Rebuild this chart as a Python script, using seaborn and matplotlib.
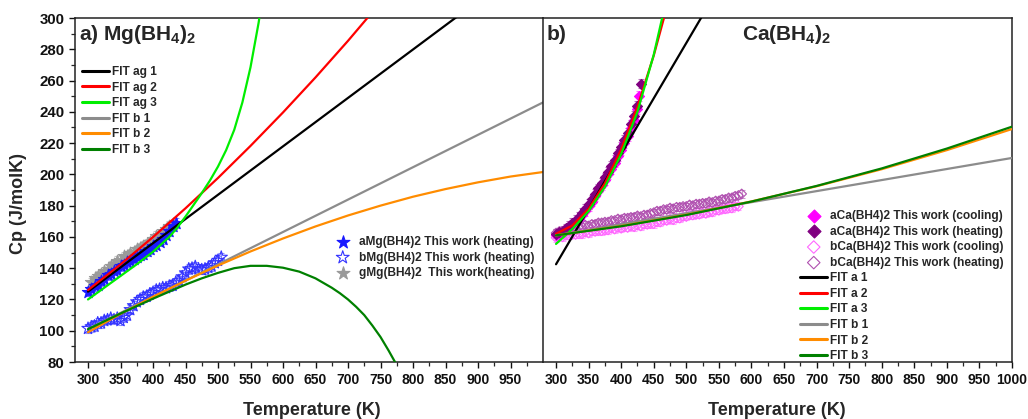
import numpy as np
import pandas as pd
import matplotlib
matplotlib.use("Agg")
import matplotlib.pyplot as plt
import seaborn as sns
from matplotlib.ticker import FixedLocator, MultipleLocator

# ---------------------------------------------------------------- Mg(BH4)2 data
T_mg_a = [300, 305, 310, 315, 320, 325, 330, 335, 340, 345, 350, 355, 360, 365,
          370, 375, 380, 385, 390, 395, 400, 405, 410, 415, 420, 425, 430, 435]
cp_mg_a = [125.0, 126.5, 128.5, 129.5, 131.5, 133.0, 135.5, 136.0, 138.5, 139.0,
           141.5, 142.0, 144.0, 144.5, 146.0, 147.0, 148.5, 149.0, 151.0, 152.0,
           154.0, 155.0, 157.0, 158.5, 161.5, 163.5, 167.0, 169.0]

T_mg_b = [300, 305, 310, 315, 320, 325, 330, 335, 340, 345, 350, 355, 360, 365,
          370, 375, 380, 385, 390, 395, 400, 405, 410, 415, 420, 425, 430, 435,
          440, 445, 450, 455, 460, 465, 470, 475, 480, 485, 490, 495, 500, 505]
cp_mg_b = [101.5, 102.5, 103.0, 105.0, 105.0, 106.5, 107.0, 108.0, 107.0, 108.0,
           106.5, 108.5, 110.0, 113.5, 116.0, 118.5, 120.0, 121.5, 122.0, 123.5,
           124.5, 126.0, 126.5, 127.5, 127.5, 128.5, 129.0, 131.0, 132.0, 134.5,
           137.0, 139.5, 140.0, 141.0, 139.5, 139.0, 139.5, 140.5, 141.5, 143.5,
           145.0, 147.0]

T_mg_g = [305, 310, 315, 320, 325, 330, 335, 340, 345, 350, 355, 360, 365, 370,
          375, 380, 385, 390, 395, 400, 405, 410, 415, 420, 425, 430]
cp_mg_g = [131.0, 133.5, 135.0, 136.5, 138.0, 139.5, 141.5, 142.5, 144.5, 145.5,
           147.5, 148.0, 149.5, 150.5, 152.0, 153.0, 154.5, 155.5, 157.0, 158.5,
           160.5, 161.5, 163.5, 165.0, 167.0, 168.0]

# Mg(BH4)2 fit curves
T_ag1 = [300, 1000]
cp_ag1 = [125.0, 341.8]
T_ag2 = [300, 350, 400, 450, 500, 550, 600, 650, 700, 750]
cp_ag2 = [126.0, 142.4, 159.9, 178.3, 197.7, 218.2, 239.6, 262.0, 285.4, 309.9]
T_ag3 = [300, 325, 350, 375, 400, 425, 437.5, 450, 462.5, 475, 487.5, 500, 512.5,
         525, 537.5, 550, 562.5, 575]
cp_ag3 = [120.0, 127.5, 135.0, 142.5, 150.5, 160.0, 166.0, 173.0, 180.5, 188.0,
          196.0, 205.0, 215.5, 228.5, 246.0, 268.5, 297.0, 332.0]
T_b1 = [300, 1000]
cp_b1 = [101.0, 246.0]
T_b2 = [300, 350, 400, 450, 500, 550, 600, 650, 700, 750, 800, 850, 900, 950, 1000]
cp_b2 = [99.0, 110.7, 121.7, 132.0, 141.7, 150.7, 159.0, 166.7, 173.7, 180.0,
         185.7, 190.6, 194.9, 198.6, 201.5]
T_b3 = [300, 350, 400, 450, 475, 500, 525, 550, 575, 600, 625, 650, 675, 687.5,
        700, 712.5, 725, 737.5, 750, 762.5, 775]
cp_b3 = [101.0, 111.0, 120.5, 129.5, 133.5, 137.0, 140.0, 141.5, 141.5, 140.3,
         137.8, 133.5, 127.5, 124.0, 120.0, 115.3, 110.0, 103.3, 96.0, 87.3, 78.0]

# ---------------------------------------------------------------- Ca(BH4)2 data
T_ca_ac = [300, 305, 310, 315, 320, 325, 330, 335, 340, 345, 350, 355, 360, 365,
           370, 375, 380, 385, 390, 395, 400, 405, 410, 415, 420, 425, 428]
cp_ca_ac = [161.0, 162.0, 163.0, 164.5, 166.0, 167.5, 169.5, 171.5, 174.0, 176.5,
            179.5, 182.5, 186.0, 189.5, 193.0, 196.5, 200.0, 203.5, 207.5, 211.5,
            215.5, 220.0, 224.5, 229.5, 235.0, 241.5, 250.0]

T_ca_ah = [300, 305, 310, 315, 320, 325, 330, 335, 340, 345, 350, 355, 360, 365,
           370, 375, 380, 385, 390, 395, 400, 405, 410, 415, 420, 425, 430]
cp_ca_ah = [162.0, 163.0, 164.0, 165.5, 167.0, 169.0, 171.0, 173.0, 175.5, 178.0,
            181.0, 184.0, 187.5, 191.0, 194.5, 198.0, 201.5, 205.5, 209.5, 213.5,
            217.5, 222.0, 226.5, 232.0, 237.5, 244.0, 258.0]

T_ca_bc = [300, 305, 310, 315, 320, 325, 330, 335, 340, 345, 350, 355, 360, 365,
           370, 375, 380, 385, 390, 395, 400, 405, 410, 415, 420, 425, 430, 435,
           440, 445, 450, 455, 460, 465, 470, 475, 480, 485, 490, 495, 500, 505,
           510, 515, 520, 525, 530, 535, 540, 545, 550, 555, 560, 565, 570, 575, 580]
cp_ca_bc = [159.5, 160.5, 160.0, 161.0, 161.0, 161.5, 161.5, 162.0, 162.0, 163.0,
            162.5, 163.5, 163.5, 164.0, 164.0, 164.5, 164.5, 165.5, 165.0, 166.0,
            165.5, 166.5, 166.0, 167.0, 166.5, 167.5, 167.0, 168.0, 168.0, 168.5,
            168.5, 169.5, 169.5, 170.5, 170.5, 171.5, 171.0, 172.0, 172.0, 173.0,
            173.0, 174.0, 174.0, 174.5, 174.5, 175.5, 175.0, 176.0, 176.0, 177.0,
            177.0, 178.0, 178.0, 178.5, 178.5, 179.5, 179.5]

T_ca_bh = [300, 305, 310, 315, 320, 325, 330, 335, 340, 345, 350, 355, 360, 365,
           370, 375, 380, 385, 390, 395, 400, 405, 410, 415, 420, 425, 430, 435,
           440, 445, 450, 455, 460, 465, 470, 475, 480, 485, 490, 495, 500, 505,
           510, 515, 520, 525, 530, 535, 540, 545, 550, 555, 560, 565, 570, 575,
           580, 585]
cp_ca_bh = [162.5, 163.5, 163.5, 164.5, 164.5, 165.5, 165.5, 166.5, 166.5, 167.5,
            167.0, 168.0, 168.0, 169.0, 169.0, 169.5, 169.5, 170.5, 170.5, 171.5,
            171.0, 172.0, 172.0, 172.5, 172.5, 173.5, 173.0, 174.0, 174.0, 175.0,
            175.5, 176.5, 176.5, 177.5, 177.5, 178.5, 178.0, 179.0, 179.0, 179.5,
            179.5, 180.5, 180.0, 181.0, 181.0, 181.5, 181.5, 182.5, 182.0, 183.0,
            183.0, 184.0, 184.0, 185.0, 185.0, 186.0, 186.5, 187.5]

# Ca(BH4)2 fit curves
T_a1 = [300, 550]
cp_a1 = [142.5, 319.4]
T_a2 = [300, 325, 350, 375, 400, 425, 450, 475]
cp_a2 = [162.0, 167.3, 178.0, 194.3, 216.0, 243.3, 276.0, 314.3]
T_a3 = [300, 325, 350, 375, 400, 425, 450, 475]
cp_a3 = [155.5, 165.0, 176.5, 192.0, 213.0, 240.0, 276.5, 322.0]
T_cb1 = [300, 1000]
cp_cb1 = [161.0, 210.5]
T_cb2 = [300, 400, 500, 600, 700, 800, 900, 1000]
cp_cb2 = [161.0, 167.0, 174.2, 182.7, 192.4, 203.3, 215.5, 229.0]
T_cb3 = [300, 400, 500, 600, 700, 800, 900, 1000]
cp_cb3 = [161.0, 166.8, 174.0, 182.6, 192.6, 203.8, 216.5, 230.5]

# ---------------------------------------------------------------- styling
sns.set_theme(style="ticks")
plt.rcParams["font.family"] = ["Liberation Sans", "DejaVu Sans"]
plt.rcParams["font.weight"] = "bold"
plt.rcParams["mathtext.fontset"] = "custom"
plt.rcParams["mathtext.rm"] = "Liberation Sans:bold"
plt.rcParams["mathtext.bf"] = "Liberation Sans:bold"
plt.rcParams["mathtext.it"] = "Liberation Sans:bold:italic"
plt.rcParams["axes.linewidth"] = 1.1
plt.rcParams["axes.edgecolor"] = "#222222"

W, H = 1028, 419
fig = plt.figure(figsize=(W / 100, H / 100), dpi=100)
ax_l = fig.add_axes([75 / W, 57 / H, 468 / W, 344 / H])
ax_r = fig.add_axes([543 / W, 57 / H, 469 / W, 344 / H])

C_BLACK, C_RED, C_LGREEN = "#000000", "#ff0000", "#00ee00"
C_GRAY, C_ORANGE, C_DGREEN = "#8c8c8c", "#ff8c00", "#008000"
LW = 1.6


def draw_fit(ax, T, cp, color, label):
    df = pd.DataFrame({"T": T, "Cp": cp})
    sns.lineplot(data=df, x="T", y="Cp", ax=ax, color=color, lw=LW,
                 label=label, sort=False, estimator=None, zorder=5)


def draw_data(ax, T, cp, err, color, marker, label, s, face=None, ealpha=0.55):
    ax.errorbar(T, cp, yerr=err, fmt="none", ecolor=color, elinewidth=0.8,
                capsize=2.2, capthick=0.8, alpha=ealpha, zorder=2)
    df = pd.DataFrame({"T": T, "Cp": cp})
    fc = color if face is None else face
    sns.scatterplot(data=df, x="T", y="Cp", ax=ax, marker=marker, s=s,
                    facecolor=fc, edgecolor=color, linewidth=0.8,
                    label=label, zorder=3)


# ---------------------------------------------------------------- left panel
draw_data(ax_l, T_mg_g, cp_mg_g, 3.0, "#9a9a9a", "*", "gMg(BH4)2  This work(heating)", 85)
draw_data(ax_l, T_mg_a, cp_mg_a, 3.0, "#1a1aff", "*", "aMg(BH4)2 This work (heating)", 85)
draw_data(ax_l, T_mg_b, cp_mg_b, 3.0, "#3333ff", "*", "bMg(BH4)2 This work (heating)", 85,
          face="none")

draw_fit(ax_l, T_ag1, cp_ag1, C_BLACK, "FIT ag 1")
draw_fit(ax_l, T_ag2, cp_ag2, C_RED, "FIT ag 2")
draw_fit(ax_l, T_ag3, cp_ag3, C_LGREEN, "FIT ag 3")
draw_fit(ax_l, T_b1, cp_b1, C_GRAY, "FIT b 1")
draw_fit(ax_l, T_b2, cp_b2, C_ORANGE, "FIT b 2")
draw_fit(ax_l, T_b3, cp_b3, C_DGREEN, "FIT b 3")

# ---------------------------------------------------------------- right panel
draw_data(ax_r, T_ca_bc, cp_ca_bc, 2.5, "#ff66ff", "D", "bCa(BH4)2 This work (cooling)", 24,
          face="none", ealpha=0.6)
draw_data(ax_r, T_ca_bh, cp_ca_bh, 2.5, "#b050b0", "D", "bCa(BH4)2 This work (heating)", 24,
          face="none", ealpha=0.6)
draw_data(ax_r, T_ca_ac, cp_ca_ac, 3.0, "#ff00ff", "D", "aCa(BH4)2 This work (cooling)", 26)
draw_data(ax_r, T_ca_ah, cp_ca_ah, 3.0, "#800080", "D", "aCa(BH4)2 This work (heating)", 26)

draw_fit(ax_r, T_a1, cp_a1, C_BLACK, "FIT a 1")
draw_fit(ax_r, T_a2, cp_a2, C_RED, "FIT a 2")
draw_fit(ax_r, T_a3, cp_a3, C_LGREEN, "FIT a 3")
draw_fit(ax_r, T_cb1, cp_cb1, C_GRAY, "FIT b 1")
draw_fit(ax_r, T_cb2, cp_cb2, C_ORANGE, "FIT b 2")
draw_fit(ax_r, T_cb3, cp_cb3, C_DGREEN, "FIT b 3")

# ---------------------------------------------------------------- axes
for ax in (ax_l, ax_r):
    ax.set_xlim(280, 1000)
    ax.set_ylim(80, 300)
    ax.set_xlabel("")
    ax.set_ylabel("")
    ax.tick_params(which="major", direction="out", length=4.2, width=1.0,
                   labelsize=10, pad=3.5, colors="#111111")
    ax.tick_params(which="minor", direction="out", length=2.6, width=0.9)

ax_l.xaxis.set_major_locator(FixedLocator(np.arange(300, 951, 50)))
ax_l.xaxis.set_minor_locator(FixedLocator(np.arange(325, 1000, 50)))
ax_r.xaxis.set_major_locator(FixedLocator(np.arange(300, 1001, 50)))
ax_r.xaxis.set_minor_locator(FixedLocator(np.arange(325, 1000, 50)))
ax_l.yaxis.set_major_locator(MultipleLocator(20))
ax_l.yaxis.set_minor_locator(MultipleLocator(10))
ax_l.tick_params(axis="y", labelsize=10.8)
ax_l.spines["right"].set_visible(False)
ax_r.tick_params(axis="y", which="both", left=False, labelleft=False)
for ax in (ax_l, ax_r):
    ax.tick_params(axis="x", which="both", top=False)
    for lab in ax.get_xticklabels() + ax.get_yticklabels():
        lab.set_fontweight("bold")

# ---------------------------------------------------------------- legends
hl, ll = ax_l.get_legend_handles_labels()
hr, lr = ax_r.get_legend_handles_labels()
lmap = dict(zip(ll, hl))
rmap = dict(zip(lr, hr))

fit_l = ["FIT ag 1", "FIT ag 2", "FIT ag 3", "FIT b 1", "FIT b 2", "FIT b 3"]
dat_l = ["aMg(BH4)2 This work (heating)", "bMg(BH4)2 This work (heating)",
         "gMg(BH4)2  This work(heating)"]
all_r = ["aCa(BH4)2 This work (cooling)", "aCa(BH4)2 This work (heating)",
         "bCa(BH4)2 This work (cooling)", "bCa(BH4)2 This work (heating)",
         "FIT a 1", "FIT a 2", "FIT a 3", "FIT b 1", "FIT b 2", "FIT b 3"]

leg_kw = dict(frameon=False, borderpad=0, borderaxespad=0, handlelength=2.3,
              handletextpad=0.25, labelspacing=0.3,
              prop={"weight": "bold", "size": 8.6}, loc="upper left")

leg1 = ax_l.legend([lmap[k] for k in fit_l], fit_l,
                   bbox_to_anchor=((82 - 75) / 468, 1 - (66 - 18) / 344), **leg_kw)
ax_l.add_artist(leg1)
leg2 = ax_l.legend([lmap[k] for k in dat_l], dat_l, markerscale=1.05,
                   bbox_to_anchor=((329 - 75) / 468, 1 - (236 - 18) / 344), **leg_kw)
leg3 = ax_r.legend([rmap[k] for k in all_r], all_r, markerscale=1.3,
                   bbox_to_anchor=((800 - 543) / 469, 1 - (210 - 18) / 344), **leg_kw)
for lg in (leg1, leg2, leg3):
    for ln in lg.get_lines():
        ln.set_linewidth(2.2)

# ---------------------------------------------------------------- texts
ax_l.text(4 / 468, 1 - (34 - 18) / 344, r"a) Mg(BH$_4$)$_2$", transform=ax_l.transAxes,
          fontsize=15, fontweight="bold", va="center", ha="left")
ax_r.text(4 / 469, 1 - (34 - 18) / 344, "b)", transform=ax_r.transAxes,
          fontsize=15, fontweight="bold", va="center", ha="left")
ax_r.text((742 - 543) / 469, 1 - (34 - 18) / 344, r"Ca(BH$_4$)$_2$",
          transform=ax_r.transAxes, fontsize=15, fontweight="bold",
          va="center", ha="left")

fig.text(19 / W, 1 - 203 / H, "Cp (J/molK)", rotation=90, ha="center", va="center",
         fontsize=13, fontweight="bold")
fig.text(312 / W, 1 - 410 / H, "Temperature (K)", ha="center", va="center",
         fontsize=13, fontweight="bold")
fig.text(777 / W, 1 - 410 / H, "Temperature (K)", ha="center", va="center",
         fontsize=13, fontweight="bold")

fig.savefig("out.png", dpi=100)
